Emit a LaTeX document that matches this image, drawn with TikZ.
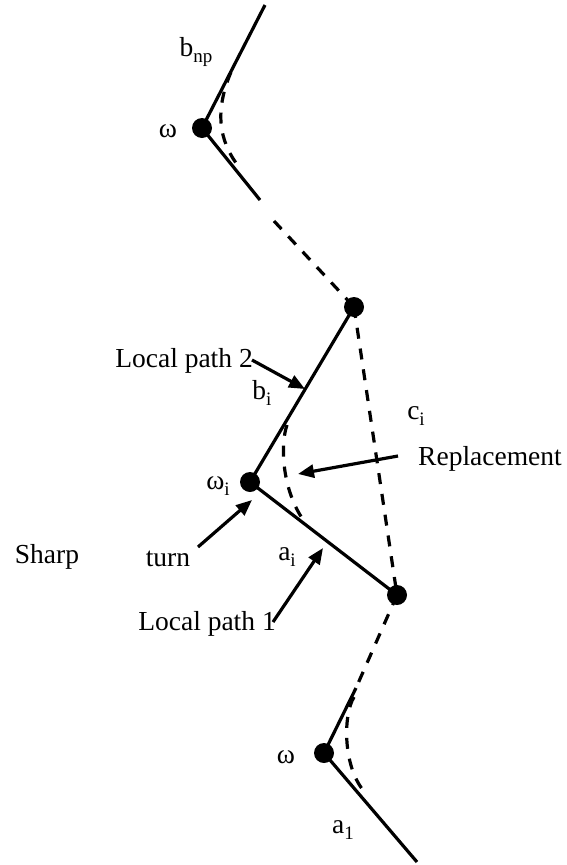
\documentclass[tikz,border=0pt]{standalone}
\usepackage{fontspec}
\setmainfont{Liberation Serif}
\usetikzlibrary{arrows.meta}

\newcommand{\lsub}[1]{\raisebox{-6pt}{\fontsize{19}{20}\selectfont #1}}

\begin{document}
\begin{tikzpicture}[
			x=1pt, y=-1pt,
			dot/.style={circle, fill, inner sep=0pt, minimum size=20pt},
			lbl/.style={inner sep=0pt, font=\fontsize{27.5}{30}\selectfont},
			seg/.style={line width=3.2pt},
			dsh/.style={line width=3.2pt, dash pattern=on 11pt off 10pt},
			pointer/.style={line width=3.2pt, -{Triangle[length=16pt,width=13pt]}}
			]
			\useasboundingbox (0,0) rectangle (567,865);
			
			% Turning points
			\node[dot] (wtop) at (202,128) {};
			\node[dot] (pa) at (354,307) {};
			\node[dot] (wi) at (250,482) {};
			\node[dot] (pb) at (397,595) {};
			\node[dot] (wbot) at (324,753) {};
			
			% Free ends
			\coordinate (top) at (265,5);
			\coordinate (topend) at (260,200);
			\coordinate (gapend) at (274,221);
			\coordinate (botstart) at (356,688);
			\coordinate (bot) at (417,862);
			
			% Labels
			\node[lbl] (bnp) at (196,52) {b\lsub{np}};
			\node[lbl] (omtop) at (168,131) {ω};
			\node[lbl] (lp2) at (184,361) {Local path 2};
			\node[lbl] (bi) at (262,393) {b\lsub{i}};
			\node[lbl] (ci) at (416,416) {c\lsub{i}};
			\node[lbl] (repl) at (490,459) {Replacement};
			\node[lbl] (omi) at (218,486) {ω\lsub{i}};
			\node[lbl] (sharp) at (47,557) {Sharp};
			\node[lbl] (turn) at (168,559) {turn};
			\node[lbl] (ai) at (287,557) {a\lsub{i}};
			\node[lbl] (lp1) at (207,624) {Local path 1};
			\node[lbl] (ombot) at (286,757) {ω};
			\node[lbl] (a1) at (343,830) {a\lsub{1}};
			
			% Path segments
			\draw[seg] (top) -- (wtop.center) -- (topend);
			\draw[dsh] (gapend) -- (pa.center);
			\draw[seg] (pa.center) -- (wi.center) -- (pb.center);
			\draw[dsh] (pa.center) -- (pb.center);
			\draw[dsh] (pb.center) -- (botstart);
			\draw[seg] (botstart) -- (wbot.center) -- (bot);
			
			% Smoothed turns
			\draw[dsh] (231,72) .. controls (215,110) and (218,140) .. (239,167);
			\draw[dsh] (287,425) .. controls (280,445) and (282,490) .. (304,521);
			\draw[dsh] (354,697) .. controls (343,715) and (343,765) .. (363,790);
			
			% Pointers
			\draw[pointer] (252,360) -- (305,389);
			\draw[pointer] (398,456) -- (298,474);
			\draw[pointer] (198,547) -- (252,500);
			\draw[pointer] (273,622) -- (323,548);
			
		\end{tikzpicture}
\end{document}
